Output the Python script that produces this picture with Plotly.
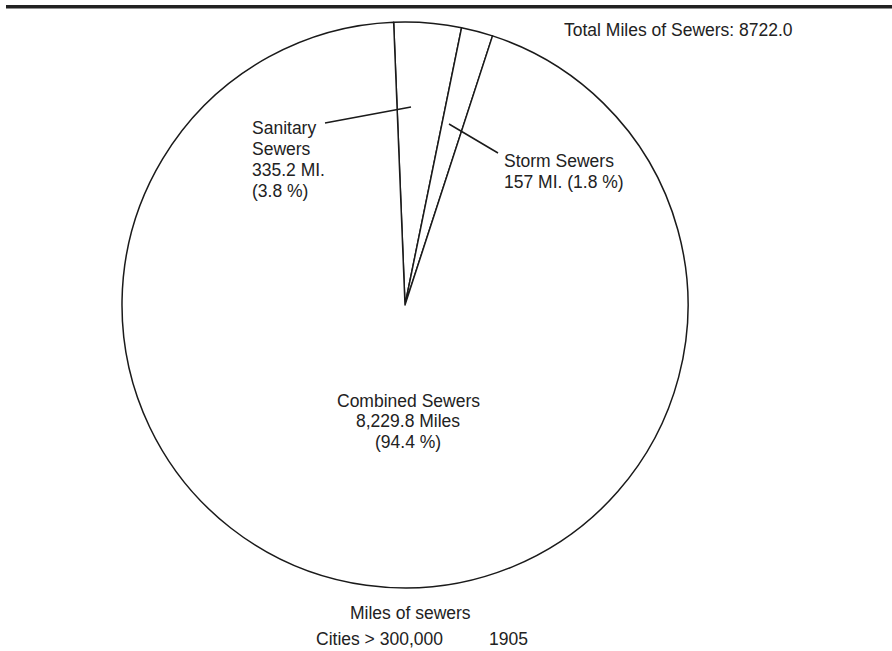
import plotly.graph_objects as go

# Data
categories = ["Sanitary Sewers", "Storm Sewers", "Combined Sewers"]
miles = [335.2, 157.0, 8229.8]
total_miles = 8722.0

W, H = 892, 651


def px(x):
    return x / W


def py(y):
    return 1 - y / H


# pie geometry (pixels)
cx, cy, r = 405, 305, 283

fig = go.Figure(
    go.Pie(
        labels=categories,
        values=miles,
        sort=False,
        direction="clockwise",
        rotation=-2.3,
        textinfo="none",
        hoverinfo="label+value+percent",
        marker=dict(colors=["white"] * 3, line=dict(color="#1a1a1a", width=1.5)),
        domain=dict(x=[px(cx - r), px(cx + r)], y=[py(cy + r), py(cy - r)]),
        showlegend=False,
    )
)

font = dict(family="Liberation Sans, Arial, Helvetica, sans-serif", size=17.5, color="#222")

pct = [v / sum(miles) * 100 for v in miles]

# (text, x, y, xanchor) -- one entry per text line
lines = [
    (f"Total Miles of Sewers: {total_miles:.1f}", 562, 30, "left"),
    ("Sanitary", 250, 128, "left"),
    ("Sewers", 250, 149, "left"),
    (f"{miles[0]:.1f} MI.", 250, 170, "left"),
    (f"({pct[0]:.1f} %)", 250, 191, "left"),
    ("Storm Sewers", 502, 161, "left"),
    (f"{miles[1]:.0f} MI. ({pct[1]:.1f} %)", 502, 182, "left"),
    ("Combined Sewers", 408, 401, "center"),
    (f"{miles[2]:,.1f} Miles", 408, 421, "center"),
    (f"({pct[2]:.1f} %)", 408, 442, "center"),
    ("Miles of sewers", 410, 613, "center"),
    ("Cities > 300,000", 379, 639, "center"),
    ("1905", 508, 639, "center"),
]
annotations = [
    dict(x=px(x), y=py(y), text=t, xanchor=xa, yanchor="middle", align=xa,
         xref="paper", yref="paper", showarrow=False, font=font)
    for t, x, y, xa in lines
]

shapes = [
    # top rule
    dict(type="rect", xref="paper", yref="paper", x0=px(6), x1=1.0, y0=py(8.5), y1=py(5),
         fillcolor="#222", line=dict(width=0)),
    # leader lines
    dict(type="line", xref="paper", yref="paper", x0=px(325), y0=py(123), x1=px(411), y1=py(107),
         line=dict(color="#1a1a1a", width=1.5)),
    dict(type="line", xref="paper", yref="paper", x0=px(449), y0=py(124), x1=px(498), y1=py(153),
         line=dict(color="#1a1a1a", width=1.5)),
]

fig.update_layout(
    width=W, height=H,
    margin=dict(l=0, r=0, t=0, b=0),
    paper_bgcolor="white", plot_bgcolor="white",
    annotations=annotations, shapes=shapes,
)

fig.write_html(
    "out.html",
    config={"displayModeBar": False},
    post_script="document.body.style.margin='0';document.body.style.padding='0';",
)
